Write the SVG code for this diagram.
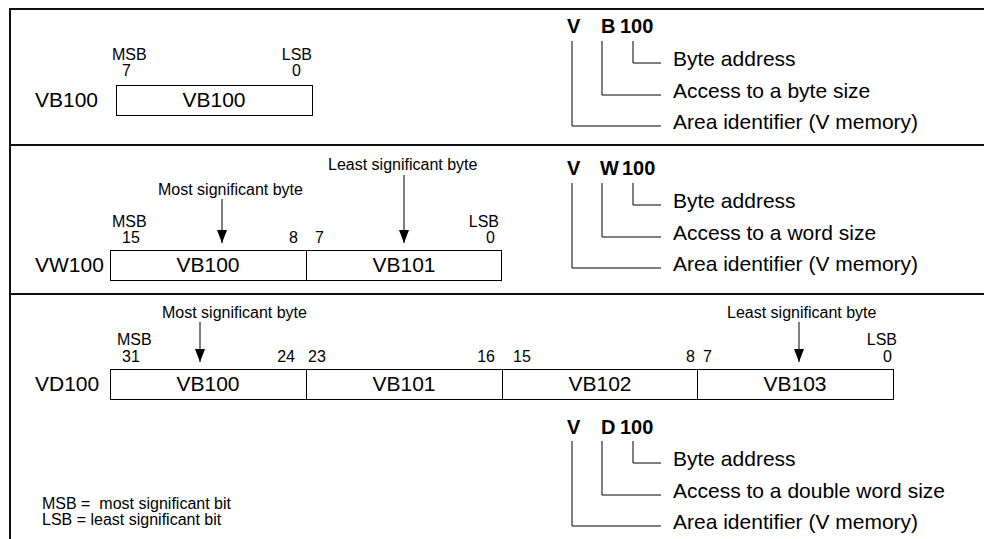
<svg xmlns="http://www.w3.org/2000/svg" width="984" height="539" viewBox="0 0 984 539">
<style>
text{font-family:"Liberation Sans",Arial,sans-serif;fill:#000}
.s{font-size:16px}
.b{font-size:21px}
.t{font-size:20px;font-weight:bold}
.e{text-anchor:end}
.m{text-anchor:middle}
.frame{stroke:#111;stroke-width:2;fill:none}
.box{stroke:#000;stroke-width:1;fill:#fff}
.ln{stroke:#000;stroke-width:1;fill:none}
</style>
<defs>
<marker id="ah" viewBox="0 0 13 10" refX="13" refY="5" markerWidth="13" markerHeight="10" markerUnits="userSpaceOnUse" orient="auto">
<path d="M0,0 L13,5 L0,10 z" fill="#000"/>
</marker>
</defs>
<g id="frame">
<path class="frame" d="M10,539 V9 H984 M10,145 H984 M10,294 H984"/>
</g>
<g id="connectors">
<path class="ln" d="M572,41 V126 H661 M602,41 V95 H661 M633,41 V63 H661"/>
<path class="ln" d="M572,183 V268 H661 M602,183 V237 H661 M633,183 V205 H661"/>
<path class="ln" d="M572,441 V526 H661 M602,441 V495 H661 M633,441 V463 H661"/>
<line class="ln" x1="222" y1="199" x2="222" y2="243" marker-end="url(#ah)"/>
<line class="ln" x1="404" y1="175" x2="404" y2="243" marker-end="url(#ah)"/>
<line class="ln" x1="200" y1="322" x2="200" y2="362" marker-end="url(#ah)"/>
<line class="ln" x1="799" y1="322" x2="799" y2="362" marker-end="url(#ah)"/>
</g>
<g id="byte">
<text class="b" x="35" y="107">VB100</text>
<text class="s" x="112" y="60">MSB</text>
<text class="s" x="122" y="76">7</text>
<text class="s e" x="312" y="60">LSB</text>
<text class="s e" x="301" y="76">0</text>
<rect class="box" x="116.5" y="85.5" width="196" height="30"/>
<text class="b m" x="214" y="107">VB100</text>
</g>
<g id="byte-address">
<text class="t" x="567" y="33">V</text>
<text class="t" x="601" y="33">B</text>
<text class="t" x="620" y="33">100</text>
<text class="b" x="673" y="66">Byte address</text>
<text class="b" x="673" y="98">Access to a byte size</text>
<text class="b" x="673" y="129">Area identifier (V memory)</text>
</g>
<g id="word">
<text class="b" x="35" y="272">VW100</text>
<text class="s" x="328" y="170">Least significant byte</text>
<text class="s" x="158" y="195">Most significant byte</text>
<text class="s" x="112" y="227">MSB</text>
<text class="s" x="122" y="243">15</text>
<text class="s e" x="298" y="243">8</text>
<text class="s" x="315" y="243">7</text>
<text class="s e" x="499" y="227">LSB</text>
<text class="s e" x="495" y="243">0</text>
<rect class="box" x="110.5" y="250.5" width="391" height="30"/>
<line class="ln" x1="306.5" y1="250.5" x2="306.5" y2="280.5"/>
<text class="b m" x="208" y="272">VB100</text>
<text class="b m" x="404" y="272">VB101</text>
</g>
<g id="word-address">
<text class="t" x="567" y="175">V</text>
<text class="t" x="600" y="175">W</text>
<text class="t" x="622" y="175">100</text>
<text class="b" x="673" y="208">Byte address</text>
<text class="b" x="673" y="240">Access to a word size</text>
<text class="b" x="673" y="271">Area identifier (V memory)</text>
</g>
<g id="dword">
<text class="b" x="35" y="391">VD100</text>
<text class="s" x="162" y="318">Most significant byte</text>
<text class="s" x="727" y="318">Least significant byte</text>
<text class="s" x="117" y="345">MSB</text>
<text class="s e" x="897" y="345">LSB</text>
<text class="s" x="122" y="362">31</text>
<text class="s e" x="295" y="362">24</text>
<text class="s" x="308" y="362">23</text>
<text class="s e" x="495" y="362">16</text>
<text class="s" x="513" y="362">15</text>
<text class="s e" x="695" y="362">8</text>
<text class="s" x="703" y="362">7</text>
<text class="s e" x="892" y="362">0</text>
<rect class="box" x="110.5" y="369.5" width="783" height="30"/>
<path class="ln" d="M306.5,369.5 V399.5 M502.5,369.5 V399.5 M697.5,369.5 V399.5"/>
<text class="b m" x="208" y="391">VB100</text>
<text class="b m" x="404" y="391">VB101</text>
<text class="b m" x="600" y="391">VB102</text>
<text class="b m" x="795" y="391">VB103</text>
</g>
<g id="dword-address">
<text class="t" x="567" y="434">V</text>
<text class="t" x="601" y="434">D</text>
<text class="t" x="620" y="434">100</text>
<text class="b" x="673" y="466">Byte address</text>
<text class="b" x="673" y="498">Access to a double word size</text>
<text class="b" x="673" y="529">Area identifier (V memory)</text>
</g>
<g id="legend">
<text class="s" x="42" y="509" style="white-space:pre">MSB =  most significant bit</text>
<text class="s" x="42" y="525">LSB = least significant bit</text>
</g>
</svg>
